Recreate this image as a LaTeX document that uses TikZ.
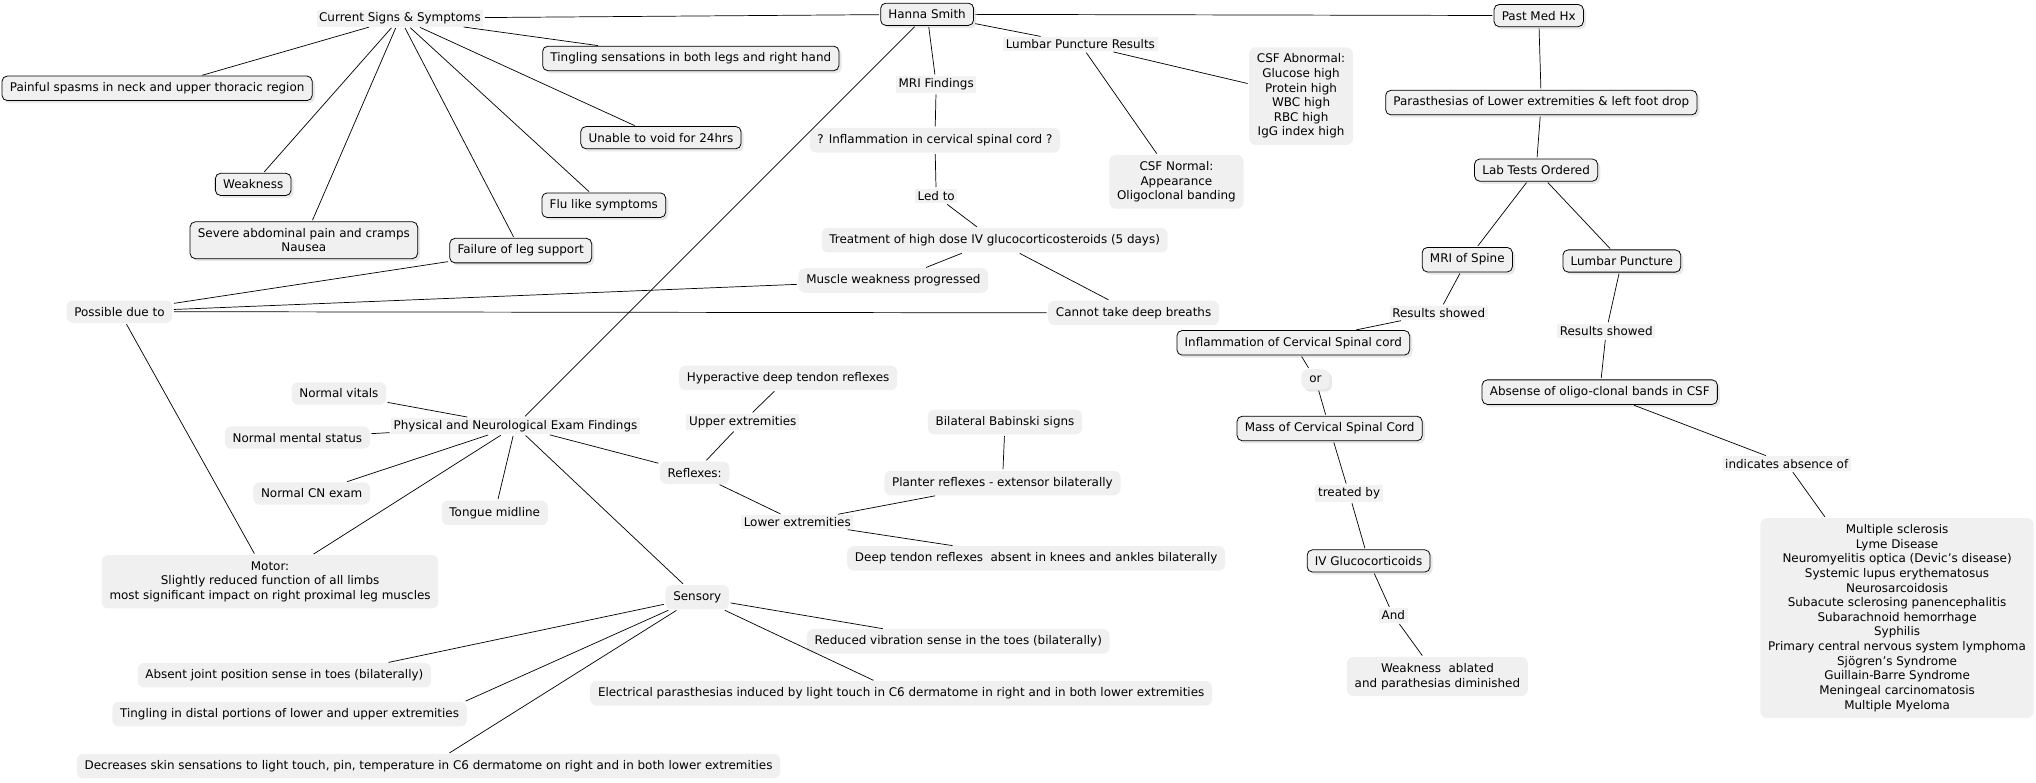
\documentclass[tikz,border=0pt]{standalone}
\usepackage{fontspec}
\setmainfont{DejaVu Sans}
\usetikzlibrary{shadows}
\definecolor{boxgray}{RGB}{240, 240, 240}
\definecolor{shadowgray}{RGB}{232, 232, 232}
\definecolor{labelgray}{RGB}{242, 242, 242}
\tikzset{
  concept/.style={draw, line width=0.6pt, rounded corners=4pt, fill=boxgray, inner xsep=6pt, inner ysep=5pt, align=center,
                  drop shadow={shadow xshift=2pt, shadow yshift=-2pt, fill=shadowgray, opacity=1}},
  plain/.style={rounded corners=5pt, fill=boxgray, inner xsep=6pt, inner ysep=5pt, align=center},
  linklabel/.style={fill=labelgray, inner sep=2pt},
  link/.style={line width=0.55pt, shorten <=1pt, shorten >=1pt}
}
\begin{document}
\begin{tikzpicture}[x=1pt, y=-1pt, font=\fontsize{9.2}{11.25}\selectfont]
    \useasboundingbox (0,0) rectangle (1568,603);
    % top row
    \node[concept]   (hanna)     at ( 714, 11) {Hanna Smith};
    \node[concept]   (pastmed)   at (1185, 12) {Past Med Hx};
    \node[linklabel] (signs)     at ( 308, 14) {Current Signs \& Symptoms};
    \node[linklabel] (lpres)     at ( 832, 34) {Lumbar Puncture Results};
    \node[linklabel] (mrifind)   at ( 721, 65) {MRI Findings};
    \node[plain]     (csfab)     at (1002, 74) {CSF Abnormal:\\Glucose high\\Protein high\\WBC high\\RBC high\\IgG index high};
    \node[plain]     (csfnorm)   at ( 906,140) {CSF Normal:\\Appearance\\Oligoclonal banding};
    \node[plain]     (inflq)     at ( 720,108) {? Inflammation in cervical spinal cord ?};
    \node[linklabel] (ledto)     at ( 721,151) {Led to};
    \node[plain]     (treat)     at ( 766,185) {Treatment of high dose IV glucocorticosteroids (5 days)};
    \node[plain]     (muscle)    at ( 688,216) {Muscle weakness progressed};
    \node[plain]     (breaths)   at ( 873,241) {Cannot take deep breaths};
    % current signs and symptoms
    \node[concept]   (spasms)    at ( 121, 68) {Painful spasms in neck and upper thoracic region};
    \node[concept]   (tingle)    at ( 532, 45) {Tingling sensations in both legs and right hand};
    \node[concept]   (void)      at ( 509,106) {Unable to void for 24hrs};
    \node[concept]   (weak)      at ( 195,142) {Weakness};
    \node[concept]   (flu)       at ( 465,158) {Flu like symptoms};
    \node[concept]   (abdom)     at ( 234,185) {Severe abdominal pain and cramps\\Nausea};
    \node[concept]   (legsup)    at ( 401,193) {Failure of leg support};
    \node[plain]     (possible)  at (  92,240) {Possible due to};
    % past med hx
    \node[concept]   (parasth)   at (1187, 79) {Parasthesias of Lower extremities \& left foot drop};
    \node[concept]   (labtests)  at (1183,131) {Lab Tests Ordered};
    \node[concept]   (mrispine)  at (1130,200) {MRI of Spine};
    \node[concept]   (lumbar)    at (1249,201) {Lumbar Puncture};
    \node[linklabel] (resl)      at (1108,241) {Results showed};
    \node[linklabel] (resr)      at (1237,255) {Results showed};
    \node[concept]   (inflcerv)  at ( 996,264) {Inflammation of Cervical Spinal cord};
    \node[plain, drop shadow={shadow xshift=2pt, shadow yshift=-2pt, fill=shadowgray, opacity=1}]
                     (orlab)     at (1013,292) {or};
    \node[concept]   (mass)      at (1024,330) {Mass of Cervical Spinal Cord};
    \node[linklabel] (treatedby) at (1039,380) {treated by};
    \node[concept]   (ivgluco)   at (1054,432) {IV Glucocorticoids};
    \node[linklabel] (andlab)    at (1073,474) {And};
    \node[plain]     (ablated)   at (1107,521) {Weakness~ ablated\\and parathesias diminished};
    \node[concept]   (absense)   at (1232,302) {Absense of oligo-clonal bands in CSF};
    \node[linklabel] (indicates) at (1376,357) {indicates absence of};
    \node[plain]     (dislist)   at (1461,476) {Multiple sclerosis\\Lyme Disease\\Neuromyelitis optica (Devic's disease)\\Systemic lupus erythematosus\\Neurosarcoidosis\\Subacute sclerosing panencephalitis\\Subarachnoid hemorrhage\\Syphilis\\Primary central nervous system lymphoma\\Sjögren's Syndrome\\Guillain-Barre Syndrome\\Meningeal carcinomatosis\\Multiple Myeloma};
    % exam findings
    \node[linklabel] (pne)       at ( 397,328) {Physical and Neurological Exam Findings};
    \node[plain]     (vitals)    at ( 261,303) {Normal vitals};
    \node[plain]     (mental)    at ( 229,337) {Normal mental status};
    \node[plain]     (cn)        at ( 240,380) {Normal CN exam};
    \node[plain]     (tongue)    at ( 381,395) {Tongue midline};
    \node[plain]     (motor)     at ( 208,448) {Motor:\\Slightly reduced function of all limbs\\most significant impact on right proximal leg muscles};
    \node[plain]     (hyper)     at ( 607,291) {Hyperactive deep tendon reflexes};
    \node[linklabel] (upper)     at ( 572,325) {Upper extremities};
    \node[plain]     (babinski)  at ( 774,325) {Bilateral Babinski signs};
    \node[plain]     (reflexes)  at ( 535,364) {Reflexes:};
    \node[plain]     (planter)   at ( 772,372) {Planter reflexes - extensor bilaterally};
    \node[linklabel] (lower)     at ( 614,402) {Lower extremities};
    \node[plain]     (deeptendon) at ( 798,430) {Deep tendon reflexes~ absent in knees and ankles bilaterally};
    \node[plain]     (sensory)   at ( 537,460) {Sensory};
    \node[plain]     (vibration) at ( 738,494) {Reduced vibration sense in the toes (bilaterally)};
    \node[plain]     (electrical) at ( 694,534) {Electrical parasthesias induced by light touch in C6 dermatome in right and in both lower extremities};
    \node[plain]     (joint)     at ( 219,520) {Absent joint position sense in toes (bilaterally)};
    \node[plain]     (distal)    at ( 223,550) {Tingling in distal portions of lower and upper extremities};
    \node[plain]     (skin)      at ( 330,590) {Decreases skin sensations to light touch, pin, temperature in C6 dermatome on right and in both lower extremities};
    % connectors
    \foreach \a/\b in {hanna/signs, hanna/pastmed, hanna/lpres, hanna/mrifind, hanna/pne,
                       lpres/csfnorm, lpres/csfab, mrifind/inflq, inflq/ledto, ledto/treat,
                       treat/muscle, treat/breaths, muscle/possible, breaths/possible, legsup/possible, possible/motor}
        \draw[link] (\a) -- (\b);
    \foreach \b in {spasms, tingle, void, weak, flu, abdom, legsup}
        \draw[link] (signs) -- (\b);
    \foreach \a/\b in {pastmed/parasth, parasth/labtests, labtests/mrispine, labtests/lumbar,
                       mrispine/resl, resl/inflcerv, lumbar/resr, resr/absense,
                       inflcerv/orlab, orlab/mass, mass/treatedby, treatedby/ivgluco, ivgluco/andlab, andlab/ablated,
                       absense/indicates, indicates/dislist}
        \draw[link] (\a) -- (\b);
    \foreach \b in {vitals, mental, cn, motor, tongue, sensory, reflexes}
        \draw[link] (pne) -- (\b);
    \foreach \a/\b in {reflexes/upper, upper/hyper, reflexes/lower, lower/planter, lower/deeptendon, babinski/planter}
        \draw[link] (\a) -- (\b);
    \foreach \b in {vibration, electrical, skin}
        \draw[link] (sensory) -- (\b);
    \draw[link] (sensory) -- ([xshift=-34pt]joint.north east);
    \draw[link] (sensory) -- ([xshift=-2pt]distal.north east);
\end{tikzpicture}
\end{document}
